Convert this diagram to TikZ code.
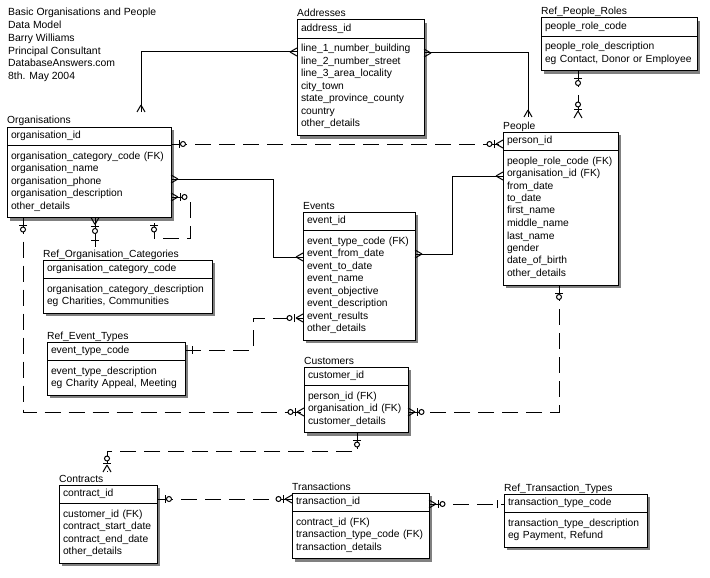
\documentclass[tikz,border=0pt]{standalone}
\usepackage{fontspec}
\setmainfont{Liberation Sans}
\usetikzlibrary{positioning, backgrounds}
\newcommand{\efont}{\fontsize{10.3}{12.5}\selectfont}
\newcommand{\entity}[7]{
  \pgfmathsetlengthmacro{\entw}{#4-8}
  \node[ekey, text width=\entw] (#1) at (#2,#3) {#6};
  \node[eattr, text width=\entw, below=0pt of #1] (#1-a) {#7};
  \node[etitle] (#1-t) at ([yshift=3pt]#1.north west) {#5};
  \begin{scope}[on background layer]
    \fill[eshadow] ([shift={(3pt,-3pt)}]#1.north west) rectangle ([shift={(3pt,-3pt)}]#1-a.south east);
  \end{scope}
}
\tikzset{
  ekey/.style={draw, fill=white, line width=1pt, outer sep=0pt, anchor=north west, align=left,
    inner xsep=4pt, inner ysep=0pt, minimum height=18.5pt, text height=7.5pt, text depth=2.5pt, font=\efont},
  eattr/.style={draw, fill=white, line width=1pt, outer sep=0pt, align=left,
    inner xsep=4pt, inner ysep=4.75pt, font=\efont},
  etitle/.style={anchor=base west, inner sep=0pt, font=\efont},
  eshadow/.style={fill=black!50},
  rel/.style={line width=1pt},
  nrel/.style={line width=1pt, dash pattern=on 16pt off 8pt},
  sym/.style={line width=1pt},
  pics/crow/.style={code={\draw (7,0) -- (0,4) (7,0) -- (0,-4);}},
  pics/zone/.style={code={\draw (8,-4) -- (8,4); \draw[fill=white] (12,0) circle (2.5pt);}},
  pics/zmany/.style={code={\draw (7,0) -- (0,4) (7,0) -- (0,-4); \draw (9,-4) -- (9,4);
    \draw[fill=white] (13.5,0) circle (2.5pt);}},
  pics/one/.style={code={\draw (7,-4) -- (7,4);}},
}
\begin{document}
\begin{tikzpicture}[x=1pt, y=-1pt]
  \useasboundingbox (0,0) rectangle (710,578);

  \node[anchor=north west, align=left, inner sep=0pt, font=\fontsize{10.4}{12.8}\selectfont] (hdr) at (8,6.5)
    {\strut Basic Organisations and People\\\strut Data Model\\\strut Barry Williams\\
     \strut Principal Consultant\\\strut DatabaseAnswers.com\\\strut 8th. May 2004};

  \entity{org}{7}{127}{164}{Organisations}{organisation\_id}
    {\strut organisation\_category\_code (FK)\\\strut organisation\_name\\\strut organisation\_phone\\
     \strut organisation\_description\\\strut other\_details}
  \entity{addr}{297}{20}{127}{Addresses}{address\_id}
    {\strut line\_1\_number\_building\\\strut line\_2\_number\_street\\\strut line\_3\_area\_locality\\
     \strut city\_town\\\strut state\_province\_county\\\strut country\\\strut other\_details}
  \entity{prr}{541}{18}{156}{Ref\_People\_Roles}{people\_role\_code}
    {\strut people\_role\_description\\\strut eg Contact, Donor or Employee}
  \entity{ppl}{503}{132}{115}{People}{person\_id}
    {\strut people\_role\_code (FK)\\\strut organisation\_id (FK)\\\strut from\_date\\\strut to\_date\\
     \strut first\_name\\\strut middle\_name\\\strut last\_name\\\strut gender\\\strut date\_of\_birth\\
     \strut other\_details}
  \entity{evt}{303}{212}{112}{Events}{event\_id}
    {\strut event\_type\_code (FK)\\\strut event\_from\_date\\\strut event\_to\_date\\\strut event\_name\\
     \strut event\_objective\\\strut event\_description\\\strut event\_results\\\strut other\_details}
  \entity{cust}{304}{367}{104}{Customers}{customer\_id}
    {\strut person\_id (FK)\\\strut organisation\_id (FK)\\\strut customer\_details}
  \entity{roc}{43}{260}{169}{Ref\_Organisation\_Categories}{organisation\_category\_code}
    {\strut organisation\_category\_description\\\strut eg Charities, Communities}
  \entity{ret}{47}{342}{138}{Ref\_Event\_Types}{event\_type\_code}
    {\strut event\_type\_description\\\strut eg Charity Appeal, Meeting}
  \entity{ctr}{59}{485}{98}{Contracts}{contract\_id}
    {\strut customer\_id (FK)\\\strut contract\_start\_date\\\strut contract\_end\_date\\\strut other\_details}
  \entity{trn}{292}{493}{137}{Transactions}{transaction\_id}
    {\strut contract\_id (FK)\\\strut transaction\_type\_code (FK)\\\strut transaction\_details}
  \entity{rtt}{504}{494}{143}{Ref\_Transaction\_Types}{transaction\_type\_code}
    {\strut transaction\_type\_description\\\strut eg Payment, Refund}

  % identifying
  \draw[rel] ([yshift=-32pt]addr.north west) coordinate (r1a) -| ([xshift=134pt,yshift=15pt]org.north west) coordinate (r1b);
  \draw[rel] ([yshift=-33pt]addr.north east) coordinate (r2a) -| ([xshift=25pt,yshift=15pt]ppl.north west) coordinate (r2b);
  \draw[rel] ([yshift=-52pt]org.north east) coordinate (r3a) -- ++(102,0) |- ([yshift=-45pt]evt.north west) coordinate (r3b);
  \draw[rel] ([yshift=-42pt]evt.north east) coordinate (r4a) -- ++(37,0) |- ([yshift=-44pt]ppl.north west) coordinate (r4b);
  \draw[rel] ([xshift=88pt]org-a.south west) coordinate (r5a) -- ([xshift=52pt,yshift=13pt]roc.north west) coordinate (r5b);

  % non-identifying
  \draw[nrel] ([yshift=-17pt]org.north east) coordinate (d1a) -- ([yshift=-12pt]ppl.north west) coordinate (d1b);
  \draw[nrel] ([xshift=37pt]prr-a.south west) coordinate (d2a) -- ([xshift=75pt,yshift=14pt]ppl.north west) coordinate (d2b);
  \draw[nrel] ([yshift=-70pt]org.north east) coordinate (d3a) -- ++(19,0) |- ([xshift=147pt,yshift=-21pt]org-a.south west)
    -- ([xshift=147pt]org-a.south west) coordinate (d3b);
  \draw[nrel] ([xshift=16pt]org-a.south west) coordinate (d4a) |- ([yshift=-45pt]cust.north west) coordinate (d4b);
  \draw[nrel] ([yshift=-8pt]ret.north east) coordinate (d5a) -- ++(68,0) |- ([yshift=-106pt]evt.north west) coordinate (d5b);
  \draw[nrel] ([xshift=56pt]ppl-a.south west) coordinate (d6a) |- ([yshift=-45pt]cust.north east) coordinate (d6b);
  \draw[nrel] ([xshift=53pt]cust-a.south west) coordinate (d7a) -- ++(0,19) -| ([xshift=48pt,yshift=13pt]ctr.north west) coordinate (d7b);
  \draw[nrel] ([yshift=-14pt]ctr.north east) coordinate (d8a) -- ([yshift=-6pt]trn.north west) coordinate (d8b);
  \draw[nrel] ([yshift=-11pt]trn.north east) coordinate (d9a) -- ([yshift=-10pt]rtt.north west) coordinate (d9b);

  % end symbols
  \pic[sym, rotate=180] at (r1a) {crow};
  \pic[sym, rotate=90] at (r1b) {crow};
  \pic[sym] at (r2a) {crow};
  \pic[sym, rotate=90] at (r2b) {crow};
  \pic[sym] at (r3a) {crow};
  \pic[sym, rotate=180] at (r3b) {crow};
  \pic[sym] at (r4a) {crow};
  \pic[sym, rotate=180] at (r4b) {crow};
  \pic[sym, rotate=-90] at (r5a) {zmany};
  \pic[sym, rotate=90] at (r5b) {one};
  \pic[sym] at (d1a) {zone};
  \pic[sym, rotate=180] at (d1b) {zmany};
  \pic[sym, rotate=-90] at (d2a) {zone};
  \pic[sym, rotate=90] at (d2b) {zmany};
  \pic[sym] at (d3a) {zmany};
  \pic[sym, rotate=-90] at (d3b) {zone};
  \pic[sym, rotate=-90] at (d4a) {zone};
  \pic[sym, rotate=180] at (d4b) {zmany};
  \pic[sym] at (d5a) {one};
  \pic[sym, rotate=180] at (d5b) {zmany};
  \pic[sym, rotate=-90] at (d6a) {zone};
  \pic[sym] at (d6b) {zmany};
  \pic[sym, rotate=-90] at (d7a) {zone};
  \pic[sym, rotate=90] at (d7b) {zmany};
  \pic[sym] at (d8a) {zone};
  \pic[sym, rotate=180] at (d8b) {zmany};
  \pic[sym] at (d9a) {zmany};
  \pic[sym, rotate=180] at (d9b) {one};
\end{tikzpicture}
\end{document}
